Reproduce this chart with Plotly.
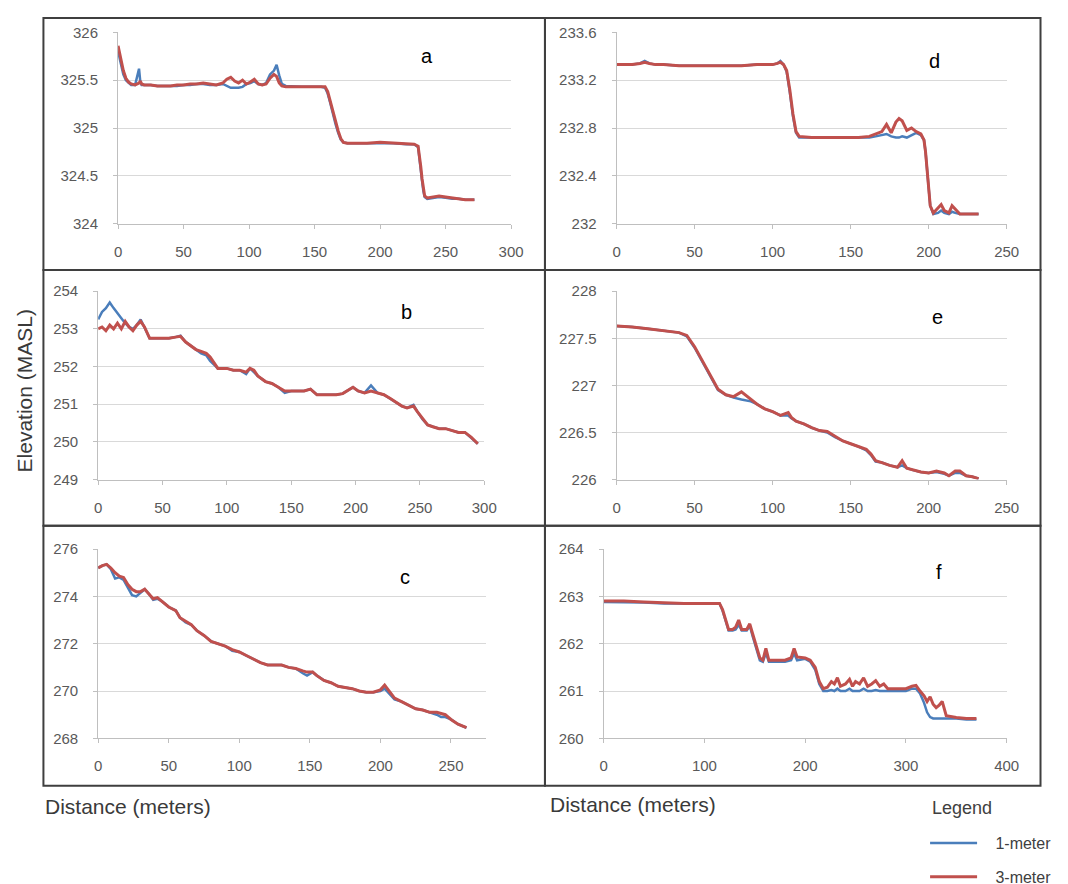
import plotly.graph_objects as go
from plotly.subplots import make_subplots

# figure size and a calibration from reference pixels to paper fractions
# (the page adds an 8px body margin; the photo comes out a little scaled)
W, H = 1072, 896
OFF = 8
SX, BX = 0.989, 2.5
SY, BY = 0.974, 6.0


def xp(px):
    return ((px - BX) / SX - OFF) / W


def yp(py):
    return 1 - ((py - BY) / SY - OFF) / H


# ---- panel a ----
a_dist = [0, 2, 4, 6, 8, 10, 13, 16, 17, 18,
          20, 25, 30, 35, 40, 45, 50, 55, 60, 65,
          70, 75, 80, 83, 86, 89, 92, 95, 98, 101,
          104, 107, 110, 113, 116, 119, 121, 123, 125, 128,
          135, 140, 145, 150, 155, 158, 160, 162, 164, 166,
          168, 170, 172, 175, 180, 190, 200, 210, 220, 226,
          229, 230, 231, 232, 233, 234, 236, 240, 245, 250,
          255, 260, 265, 270, 272]
a_1m = [325.80, 325.66, 325.56, 325.50, 325.47, 325.45, 325.45, 325.62, 325.48, 325.45,
        325.45, 325.45, 325.44, 325.44, 325.44, 325.44, 325.45, 325.45, 325.46, 325.46,
        325.45, 325.45, 325.46, 325.44, 325.42, 325.42, 325.42, 325.43, 325.46, 325.47,
        325.49, 325.46, 325.45, 325.47, 325.56, 325.60, 325.66, 325.55, 325.46, 325.44,
        325.43, 325.43, 325.43, 325.43, 325.43, 325.42, 325.36, 325.26, 325.14, 325.04,
        324.95, 324.88, 324.85, 324.84, 324.84, 324.84, 324.84, 324.84, 324.83, 324.83,
        324.80, 324.70, 324.58, 324.45, 324.34, 324.28, 324.26, 324.27, 324.28, 324.27,
        324.26, 324.26, 324.25, 324.25, 324.25]
a_3m = [325.86, 325.72, 325.60, 325.52, 325.48, 325.46, 325.45, 325.47, 325.49, 325.46,
        325.45, 325.45, 325.44, 325.44, 325.44, 325.45, 325.45, 325.46, 325.46, 325.47,
        325.46, 325.45, 325.47, 325.51, 325.53, 325.49, 325.47, 325.50, 325.46, 325.48,
        325.51, 325.46, 325.45, 325.46, 325.52, 325.56, 325.54, 325.47, 325.44, 325.43,
        325.43, 325.43, 325.43, 325.43, 325.43, 325.43, 325.38, 325.28, 325.16, 325.06,
        324.97, 324.89, 324.85, 324.84, 324.84, 324.84, 324.85, 324.84, 324.83, 324.83,
        324.81, 324.72, 324.60, 324.47, 324.36, 324.29, 324.27, 324.28, 324.29, 324.28,
        324.27, 324.26, 324.25, 324.25, 324.25]

# ---- panel b ----
b_dist = [0, 3, 6, 9, 12, 15, 18, 21, 24, 27,
          30, 33, 36, 40, 45, 50, 55, 60, 64, 68,
          72, 76, 80, 84, 87, 90, 93, 96, 100, 105,
          110, 115, 118, 121, 124, 130, 135, 140, 145, 150,
          155, 160, 165, 170, 175, 180, 185, 190, 195, 198,
          202, 207, 212, 217, 222, 227, 232, 236, 240, 245,
          248, 252, 256, 260, 265, 270, 275, 280, 285, 290,
          295]
b_1m = [253.25, 253.45, 253.55, 253.70, 253.55, 253.40, 253.28, 253.15, 253.05, 253.00,
        253.10, 253.25, 253.05, 252.75, 252.75, 252.75, 252.75, 252.78, 252.82, 252.65,
        252.55, 252.45, 252.35, 252.30, 252.15, 252.05, 251.95, 251.95, 251.95, 251.90,
        251.90, 251.80, 251.95, 251.85, 251.75, 251.60, 251.55, 251.45, 251.30, 251.35,
        251.35, 251.35, 251.40, 251.25, 251.25, 251.25, 251.25, 251.28, 251.40, 251.45,
        251.35, 251.30, 251.50, 251.30, 251.25, 251.15, 251.05, 250.95, 250.90, 250.98,
        250.80, 250.60, 250.45, 250.40, 250.35, 250.35, 250.30, 250.25, 250.25, 250.10,
        249.95]
b_3m = [253.00, 253.05, 252.95, 253.10, 253.00, 253.15, 253.00, 253.20, 253.05, 252.95,
        253.10, 253.20, 253.05, 252.75, 252.75, 252.75, 252.75, 252.78, 252.80, 252.65,
        252.55, 252.45, 252.40, 252.35, 252.25, 252.10, 251.95, 251.95, 251.95, 251.90,
        251.90, 251.85, 251.95, 251.90, 251.75, 251.60, 251.55, 251.45, 251.35, 251.35,
        251.35, 251.35, 251.40, 251.25, 251.25, 251.25, 251.25, 251.28, 251.40, 251.45,
        251.35, 251.30, 251.35, 251.30, 251.25, 251.15, 251.05, 250.95, 250.90, 250.95,
        250.80, 250.62, 250.45, 250.40, 250.35, 250.35, 250.30, 250.25, 250.25, 250.12,
        249.95]

# ---- panel c ----
c_dist = [0, 3, 6, 9, 12, 15, 18, 21, 24, 27,
          30, 33, 36, 39, 42, 45, 50, 55, 58, 62,
          66, 70, 75, 80, 85, 90, 95, 100, 105, 110,
          115, 120, 125, 130, 135, 140, 145, 148, 152, 155,
          160, 165, 170, 175, 180, 185, 190, 195, 200, 203,
          206, 210, 215, 220, 225, 230, 235, 240, 243, 246,
          250, 255, 261]
c_1m = [275.20, 275.30, 275.35, 275.15, 274.75, 274.80, 274.70, 274.35, 274.05, 274.00,
        274.15, 274.30, 274.10, 273.85, 273.90, 273.80, 273.55, 273.40, 273.10, 272.90,
        272.80, 272.55, 272.35, 272.10, 272.00, 271.90, 271.70, 271.65, 271.50, 271.35,
        271.20, 271.10, 271.10, 271.10, 271.00, 270.95, 270.75, 270.65, 270.80, 270.65,
        270.45, 270.35, 270.20, 270.15, 270.10, 270.00, 269.95, 269.95, 270.00, 270.10,
        269.90, 269.65, 269.55, 269.40, 269.25, 269.20, 269.10, 269.00, 268.90, 268.90,
        268.80, 268.60, 268.45]
c_3m = [275.20, 275.30, 275.35, 275.20, 275.00, 274.85, 274.80, 274.50, 274.30, 274.20,
        274.20, 274.30, 274.10, 273.90, 273.95, 273.80, 273.55, 273.40, 273.10, 272.95,
        272.80, 272.55, 272.35, 272.10, 272.00, 271.90, 271.75, 271.65, 271.50, 271.35,
        271.20, 271.10, 271.10, 271.10, 271.00, 270.95, 270.85, 270.80, 270.80, 270.65,
        270.45, 270.35, 270.20, 270.15, 270.10, 270.00, 269.95, 269.95, 270.05, 270.25,
        270.00, 269.70, 269.55, 269.40, 269.25, 269.20, 269.10, 269.10, 269.05, 269.00,
        268.80, 268.60, 268.45]

# ---- panel d ----
d_dist = [0, 10, 15, 18, 21, 25, 30, 40, 50, 60,
          70, 80, 90, 100, 103, 105, 107, 109, 111, 113,
          115, 117, 125, 135, 145, 155, 162, 166, 170, 173,
          176, 179, 181, 183, 186, 189, 192, 195, 197, 198,
          199, 200, 201, 203, 206, 208, 210, 213, 215, 217,
          220, 225, 232]
d_1m = [233.33, 233.33, 233.34, 233.36, 233.34, 233.33, 233.33, 233.32, 233.32, 233.32,
        233.32, 233.32, 233.33, 233.33, 233.34, 233.36, 233.33, 233.27, 233.10, 232.90,
        232.76, 232.72, 232.72, 232.72, 232.72, 232.72, 232.72, 232.73, 232.74, 232.75,
        232.73, 232.72, 232.72, 232.73, 232.72, 232.74, 232.76, 232.74, 232.70, 232.60,
        232.45, 232.30, 232.15, 232.08, 232.09, 232.11, 232.09, 232.08, 232.10, 232.09,
        232.08, 232.08, 232.08]
d_3m = [233.33, 233.33, 233.34, 233.35, 233.34, 233.33, 233.33, 233.32, 233.32, 233.32,
        233.32, 233.32, 233.33, 233.33, 233.34, 233.35, 233.33, 233.28, 233.12, 232.92,
        232.77, 232.73, 232.72, 232.72, 232.72, 232.72, 232.73, 232.75, 232.77, 232.83,
        232.76, 232.85, 232.88, 232.86, 232.78, 232.80, 232.77, 232.75, 232.70, 232.60,
        232.45, 232.30, 232.15, 232.09, 232.13, 232.16, 232.11, 232.09, 232.15, 232.12,
        232.08, 232.08, 232.08]

# ---- panel e ----
e_dist = [0, 10, 20, 30, 40, 45, 50, 55, 60, 65,
          70, 75, 80, 83, 86, 90, 95, 100, 105, 110,
          112, 115, 120, 125, 130, 135, 140, 145, 150, 155,
          160, 163, 166, 170, 175, 180, 183, 186, 190, 195,
          200, 205, 210, 213, 217, 220, 224, 228, 232]
e_1m = [227.63, 227.62, 227.60, 227.58, 227.56, 227.52, 227.40, 227.25, 227.10, 226.95,
        226.90, 226.87, 226.85, 226.84, 226.83, 226.80, 226.75, 226.72, 226.68, 226.68,
        226.65, 226.62, 226.59, 226.55, 226.52, 226.50, 226.45, 226.41, 226.38, 226.35,
        226.31, 226.26, 226.19, 226.18, 226.15, 226.13, 226.15, 226.12, 226.10, 226.08,
        226.07, 226.08, 226.06, 226.04, 226.07, 226.07, 226.04, 226.03, 226.01]
e_3m = [227.63, 227.62, 227.60, 227.58, 227.56, 227.53, 227.41, 227.26, 227.11, 226.96,
        226.90, 226.88, 226.93, 226.89, 226.86, 226.80, 226.75, 226.72, 226.68, 226.71,
        226.66, 226.62, 226.59, 226.55, 226.52, 226.51, 226.46, 226.41, 226.38, 226.35,
        226.32, 226.27, 226.20, 226.18, 226.15, 226.13, 226.20, 226.12, 226.10, 226.08,
        226.07, 226.09, 226.07, 226.04, 226.09, 226.09, 226.04, 226.03, 226.01]

# ---- panel f ----
f_dist = [0, 20, 40, 60, 80, 100, 115, 118, 121, 124,
          128, 131, 134, 137, 142, 145, 148, 152, 155, 158,
          161, 164, 170, 180, 186, 189, 192, 200, 205, 210,
          214, 218, 222, 226, 229, 232, 235, 240, 244, 247,
          250, 254, 258, 262, 266, 270, 274, 278, 282, 290,
          300, 306, 310, 314, 318, 321, 324, 327, 330, 333,
          336, 340, 350, 360, 370]
f_1m = [262.88, 262.88, 262.87, 262.85, 262.85, 262.85, 262.85, 262.70, 262.50, 262.28,
        262.28, 262.30, 262.40, 262.28, 262.28, 262.38, 262.15, 261.85, 261.65, 261.62,
        261.80, 261.62, 261.62, 261.62, 261.65, 261.80, 261.65, 261.68, 261.62, 261.45,
        261.15, 261.00, 261.00, 261.02, 261.00, 261.05, 261.00, 261.00, 261.05, 261.00,
        261.00, 261.00, 261.05, 261.00, 261.00, 261.02, 261.00, 261.00, 261.00, 261.00,
        261.00, 261.05, 261.05, 260.95, 260.75, 260.55, 260.45, 260.42, 260.42, 260.42,
        260.42, 260.42, 260.42, 260.40, 260.40]
f_3m = [262.90, 262.90, 262.88, 262.86, 262.85, 262.85, 262.85, 262.72, 262.50, 262.30,
        262.30, 262.35, 262.50, 262.30, 262.30, 262.42, 262.20, 261.90, 261.70, 261.65,
        261.90, 261.65, 261.65, 261.65, 261.70, 261.90, 261.72, 261.70, 261.65, 261.50,
        261.20, 261.05, 261.08, 261.20, 261.15, 261.28, 261.10, 261.15, 261.25, 261.10,
        261.20, 261.15, 261.28, 261.10, 261.15, 261.22, 261.10, 261.15, 261.05, 261.05,
        261.05, 261.10, 261.12, 261.00, 260.90, 260.78, 260.88, 260.72, 260.65, 260.70,
        260.78, 260.48, 260.44, 260.42, 260.42]

blue = '#4a7ebb'
red = '#c0504d'
tick_font = dict(family='Liberation Sans, Arial', size=15, color='#595959')

# (letter, dist, 1m, 3m, row, col, x range, x step, y range, y step, plot area in ref px)
panels = [
    ('a', a_dist, a_1m, a_3m, 1, 1, [0, 300], 50, [324, 326], 0.5, (117, 512, 29, 219)),
    ('d', d_dist, d_1m, d_3m, 1, 2, [0, 250], 50, [232, 233.6], 0.4, (618, 1010, 29, 219)),
    ('b', b_dist, b_1m, b_3m, 2, 1, [0, 300], 50, [249, 254], 1, (97, 485, 286, 473)),
    ('e', e_dist, e_1m, e_3m, 2, 2, [0, 250], 50, [226, 228], 0.5, (618, 1010, 286, 473)),
    ('c', c_dist, c_1m, c_3m, 3, 1, [0, 275], 50, [268, 276], 2, (97, 487, 542, 730)),
    ('f', f_dist, f_1m, f_3m, 3, 2, [0, 400], 100, [260, 264], 1, (605, 1010, 542, 730)),
]
letter_pos = {'a': (427, 53), 'd': (937, 57), 'b': (407, 307),
              'e': (940, 312), 'c': (405, 570), 'f': (942, 565)}

fig = make_subplots(rows=3, cols=2)

for i, (letter, dist, one_m, three_m, r, c, xr, xs, yr, ys, box) in enumerate(panels):
    first = i == 0
    fig.add_trace(go.Scatter(x=dist, y=one_m, mode='lines',
                             name='\u00a0\u00a0\u00a01-meter',
                             line=dict(color=blue, width=2.5), legendgroup='1m',
                             showlegend=first), row=r, col=c)
    fig.add_trace(go.Scatter(x=dist, y=three_m, mode='lines',
                             name='\u00a0\u00a0\u00a03-meter',
                             line=dict(color=red, width=3), legendgroup='3m',
                             showlegend=first), row=r, col=c)
    x0, x1, y0, y1 = box
    fig.update_xaxes(row=r, col=c, range=xr, dtick=xs, tick0=0,
                     domain=[xp(x0), xp(x1)], showgrid=False,
                     showline=True, linecolor='#bfbfbf', linewidth=1,
                     ticks='outside', ticklen=4, tickcolor='#bfbfbf',
                     tickfont=tick_font, ticklabelstandoff=10, zeroline=False)
    fig.update_yaxes(row=r, col=c, range=yr, dtick=ys, tick0=yr[0],
                     domain=[yp(y1), yp(y0)], showgrid=True,
                     gridcolor='#d9d9d9', gridwidth=1,
                     showline=True, linecolor='#bfbfbf', linewidth=1,
                     ticks='outside', ticklen=4, tickcolor='#bfbfbf',
                     tickfont=tick_font, ticklabelstandoff=12, zeroline=False)
    lx, ly = letter_pos[letter]
    fig.add_annotation(x=xp(lx), y=yp(ly), xref='paper', yref='paper',
                       xanchor='center', yanchor='middle',
                       text=letter, showarrow=False,
                       font=dict(family='Liberation Sans, Arial', size=20, color='#000000'))

# panel boxes
xs_box = [42, 546, 1044]
ys_box = [9, 265, 519, 777]
for ci in range(2):
    for ri in range(3):
        fig.add_shape(type='rect', xref='paper', yref='paper',
                      x0=xp(xs_box[ci]), x1=xp(xs_box[ci + 1]),
                      y0=yp(ys_box[ri + 1]), y1=min(yp(ys_box[ri]), 0.999),
                      line=dict(color='#3f3f3f', width=2))

label_font = dict(family='Liberation Sans, Arial', size=21, color='#3a3a3a')
fig.add_annotation(x=xp(23), y=yp(385), xref='paper', yref='paper',
                   xanchor='center', yanchor='middle',
                   text='Elevation (MASL)', textangle=-90, showarrow=False, font=label_font)
fig.add_annotation(x=xp(42), y=yp(798), xref='paper', yref='paper',
                   xanchor='left', yanchor='middle',
                   text='Distance (meters)', showarrow=False, font=label_font)
fig.add_annotation(x=xp(549), y=yp(796), xref='paper', yref='paper',
                   xanchor='left', yanchor='middle',
                   text='Distance (meters)', showarrow=False, font=label_font)
fig.add_annotation(x=xp(933), y=yp(799), xref='paper', yref='paper',
                   xanchor='left', yanchor='middle',
                   text='Legend', showarrow=False,
                   font=dict(family='Liberation Sans, Arial', size=18, color='#404040'))

fig.update_layout(
    width=W, height=H,
    margin=dict(l=0, r=0, t=0, b=0),
    paper_bgcolor='white', plot_bgcolor='white',
    showlegend=True,
    legend=dict(x=xp(928), y=yp(817), xanchor='left', yanchor='top',
                tracegroupgap=10, itemwidth=47,
                font=dict(family='Liberation Sans, Arial', size=16, color='#404040'),
                bgcolor='rgba(0,0,0,0)'),
)

fig.write_html("out.html")
